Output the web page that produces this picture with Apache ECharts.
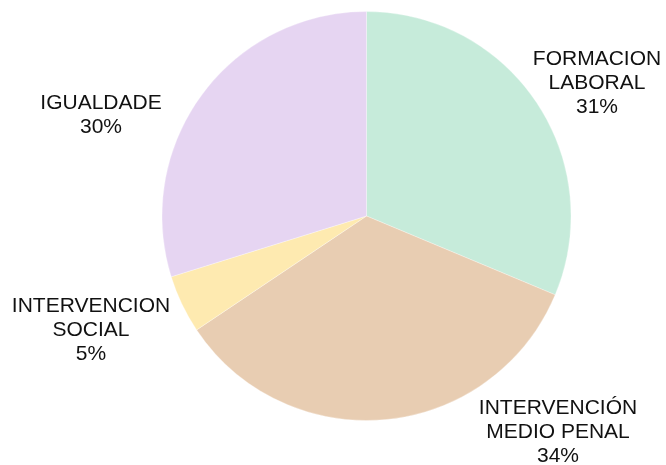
<!DOCTYPE html>
<html><head><meta charset="utf-8">
<script src="https://cdn.jsdelivr.net/npm/echarts@6/dist/echarts.min.js"></script>
<style>html,body{margin:0;padding:0;background:#fff}#c{width:666px;height:465px}</style>
</head><body><div id="c"></div>
<script>
const categories = ['FORMACION\nLABORAL', 'INTERVENCIÓN\nMEDIO PENAL', 'INTERVENCION\nSOCIAL', 'IGUALDADE'];
const values = [31.3, 34.3, 4.6, 29.8];
const colors = ['#C6EBDA', '#E8CDB2', '#FEEAB0', '#E6D5F2'];
const labelPos = [[597, 83], [558, 432], [91, 330], [101, 115]];

const chart = echarts.init(document.getElementById('c'), null, {renderer: 'canvas'});
chart.setOption({
  animation: false,
  series: [{
    type: 'pie',
    center: [366.5, 216],
    radius: 204.5,
    startAngle: 90,
    clockwise: true,
    data: categories.map((n, i) => ({name: n, value: values[i], itemStyle: {color: colors[i]}})),
    itemStyle: {borderColor: 'rgba(255,255,255,0.6)', borderWidth: 0.5},
    label: {
      show: true,
      position: 'outside',
      alignTo: 'none',
      overflow: 'none',
      width: 300,
      formatter: p => p.name + '\n' + Math.round(p.percent) + '%',
      fontFamily: 'Liberation Sans, Arial, sans-serif',
      fontSize: 21,
      lineHeight: 24,
      color: '#111',
      align: 'center'
    },
    labelLine: {show: false},
    labelLayout: p => ({x: labelPos[p.dataIndex][0], y: labelPos[p.dataIndex][1], align: 'center', verticalAlign: 'middle'}),
    emphasis: {disabled: true}
  }]
});
</script></body></html>
